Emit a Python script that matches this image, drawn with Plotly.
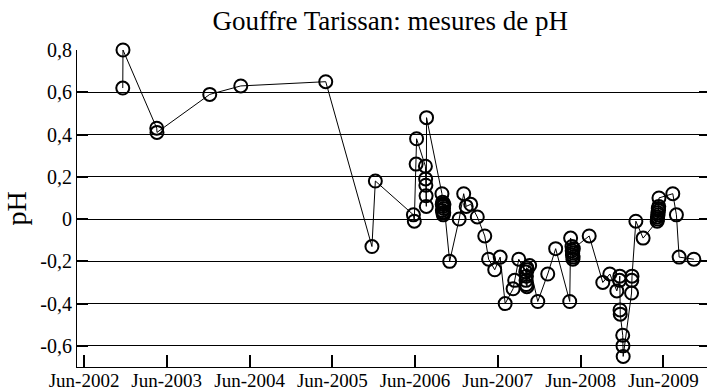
import plotly.graph_objects as go

# pH readings, Gouffre Tarissan
dates = [
    "2002-11-19", "2002-11-20", "2003-04-18", "2003-04-19", "2003-12-08",
    "2004-04-23", "2005-05-03", "2005-11-23", "2005-12-08", "2006-05-25",
    "2006-05-29", "2006-06-06", "2006-06-08", "2006-07-17", "2006-07-18",
    "2006-07-19", "2006-07-20", "2006-07-21", "2006-07-22", "2006-09-28",
    "2006-09-29", "2006-09-30", "2006-10-01", "2006-10-02", "2006-10-03",
    "2006-10-04", "2006-10-05", "2006-10-06", "2006-10-07", "2006-11-01",
    "2006-12-13", "2007-01-02", "2007-01-13", "2007-02-02", "2007-03-03",
    "2007-04-05", "2007-04-22", "2007-05-19", "2007-06-12", "2007-07-04",
    "2007-08-08", "2007-08-15", "2007-09-02", "2007-10-03", "2007-10-04",
    "2007-10-05", "2007-10-06", "2007-10-07", "2007-10-08", "2007-10-09",
    "2007-10-20", "2007-11-25", "2008-01-08", "2008-02-12", "2008-04-14",
    "2008-04-18", "2008-04-24", "2008-04-25", "2008-04-26", "2008-04-27",
    "2008-04-28", "2008-04-29", "2008-04-30", "2008-07-09", "2008-09-07",
    "2008-10-08", "2008-11-08", "2008-11-20", "2008-11-21", "2008-11-22",
    "2008-11-23", "2008-12-04", "2008-12-05", "2008-12-06", "2009-01-12",
    "2009-01-13", "2009-01-14", "2009-01-31", "2009-03-04", "2009-05-05",
    "2009-05-06", "2009-05-07", "2009-05-08", "2009-05-09", "2009-05-10",
    "2009-05-11", "2009-05-12", "2009-05-13", "2009-07-13", "2009-07-29",
    "2009-08-10", "2009-10-14",
]
ph = [
    0.62, 0.80, 0.43, 0.41, 0.59,
    0.63, 0.65, -0.13, 0.18, 0.02,
    -0.01, 0.26, 0.38, 0.25, 0.19,
    0.16, 0.11, 0.06, 0.48, 0.12,
    0.07, 0.04, 0.08, 0.03, 0.06,
    0.02, 0.05, 0.03, 0.07, -0.20,
    0.00, 0.12, 0.06, 0.07, 0.01,
    -0.08, -0.19, -0.24, -0.18, -0.40,
    -0.33, -0.29, -0.19, -0.25, -0.29,
    -0.31, -0.27, -0.23, -0.32, -0.24,
    -0.22, -0.39, -0.26, -0.14, -0.39,
    -0.09, -0.13, -0.15, -0.17, -0.16,
    -0.19, -0.18, -0.14, -0.08, -0.30,
    -0.26, -0.34, -0.29, -0.27, -0.43,
    -0.45, -0.55, -0.60, -0.65, -0.35,
    -0.29, -0.27, -0.01, -0.09, -0.01,
    0.01, 0.00, 0.03, 0.02, 0.05,
    0.04, 0.06, 0.10, 0.12, 0.02,
    -0.18, -0.19,
]

y_ticks = [0.8, 0.6, 0.4, 0.2, 0, -0.2, -0.4, -0.6]
y_labels = ["0,8", "0,6", "0,4", "0,2", "0", "-0,2", "-0,4", "-0,6"]
x_ticks = ["2002-06-01", "2003-06-01", "2004-06-01", "2005-06-01",
           "2006-06-01", "2007-06-01", "2008-06-01", "2009-06-01"]
x_labels = ["Jun-2002", "Jun-2003", "Jun-2004", "Jun-2005",
            "Jun-2006", "Jun-2007", "Jun-2008", "Jun-2009"]

SERIF = "Liberation Serif, serif"

fig = go.Figure()
fig.add_trace(go.Scatter(
    x=dates, y=ph, mode="lines+markers",
    line=dict(color="black", width=1),
    marker=dict(symbol="circle-open", size=13, color="black",
                line=dict(color="black", width=2)),
    cliponaxis=False,
    showlegend=False, hoverinfo="x+y",
))
# empty trace so the right-hand tick axis is drawn
fig.add_trace(go.Scatter(x=[], y=[], yaxis="y2", showlegend=False))

fig.update_layout(
    width=707, height=390,
    margin=dict(l=77, r=0, t=50, b=23),
    paper_bgcolor="white", plot_bgcolor="white",
    font=dict(family=SERIF, color="black", size=19),
    title=dict(text="Gouffre Tarissan: mesures de pH", x=0.552, xanchor="center",
               y=0.948, yanchor="middle", yref="container",
               font=dict(size=27, color="black")),
    xaxis=dict(
        type="date", range=["2002-05-01", "2009-12-11"],
        tickvals=x_ticks, ticktext=x_labels,
        ticks="inside", ticklen=12, tickwidth=2, tickcolor="black",
        showline=True, linecolor="black", linewidth=1,
        showgrid=False, zeroline=False,
        tickfont=dict(size=19, color="black"),
        ticklabelstandoff=-4,
        automargin=False,
    ),
    yaxis=dict(
        range=[-0.7, 0.8],
        tickvals=y_ticks, ticktext=y_labels,
        ticks="inside", ticklen=11, tickwidth=2, tickcolor="black",
        showline=True, linecolor="black", linewidth=1,
        showgrid=True, gridcolor="black", gridwidth=1,
        zeroline=True, zerolinecolor="black", zerolinewidth=1,
        tickfont=dict(size=20, color="black"),
        title=dict(text="pH", font=dict(size=28, color="black"), standoff=5),
        automargin=False,
    ),
    yaxis2=dict(
        overlaying="y", side="right", matches="y",
        tickvals=y_ticks, ticks="inside", ticklen=8, tickwidth=2,
        tickcolor="black", showticklabels=False, showgrid=False,
        showline=False, zeroline=False,
    ),
)

fig.write_html("out.html")
